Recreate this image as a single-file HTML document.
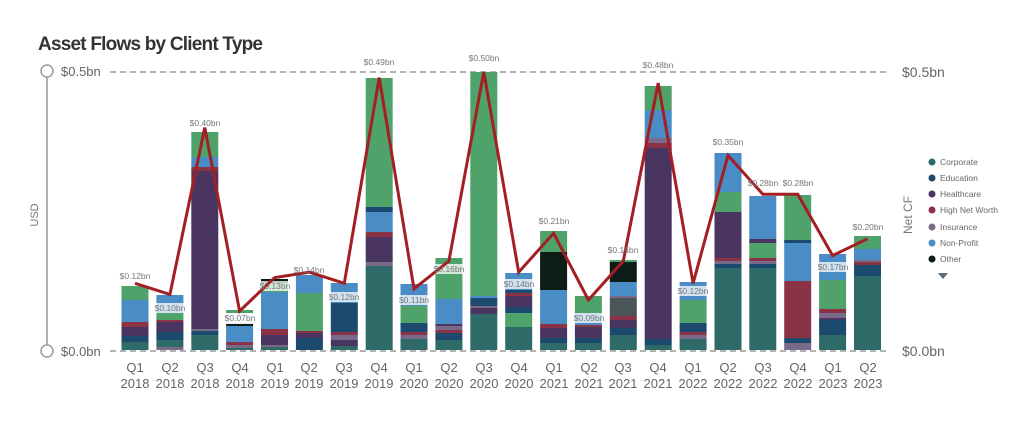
<!DOCTYPE html>
<html><head><meta charset="utf-8"><style>
html,body{margin:0;padding:0;background:#fff;width:1024px;height:423px;overflow:hidden}
svg{display:block;font-family:"Liberation Sans",sans-serif}
</style></head><body>
<svg id="s" width="1024" height="423" viewBox="0 0 1024 423">
<text x="38" y="50" font-size="19" font-weight="bold" fill="#333" textLength="225">Asset Flows by Client Type</text>
<line x1="47" y1="77" x2="47" y2="345" stroke="#999" stroke-width="1.5"/>
<circle cx="47" cy="71" r="6" fill="#fff" stroke="#999" stroke-width="1.5"/>
<circle cx="47" cy="351" r="6" fill="#fff" stroke="#999" stroke-width="1.5"/>
<text x="61" y="76" font-size="13" fill="#666">$0.5bn</text>
<text x="61" y="356" font-size="13" fill="#666">$0.0bn</text>
<line x1="110" y1="72" x2="890" y2="72" stroke="#999" stroke-width="1.5" stroke-dasharray="6,4"/>
<line x1="110" y1="351" x2="890" y2="351" stroke="#999" stroke-width="1.5" stroke-dasharray="6,4"/>
<text x="902" y="77" font-size="14" fill="#666">$0.5bn</text>
<text x="902" y="356" font-size="14" fill="#666">$0.0bn</text>
<text transform="translate(38,215) rotate(-90)" font-size="11" fill="#777" text-anchor="middle">USD</text>
<text transform="translate(912,215) rotate(-90)" font-size="12" fill="#777" text-anchor="middle">Net CF</text>
<g id="bars"></g>
<g id="lb"></g>
<g id="ln"></g>
<g id="labs" font-size="8.5" fill="#777" text-anchor="middle">
<text x="135" y="279">$0.12bn</text><text x="170" y="311">$0.10bn</text><text x="205" y="126">$0.40bn</text><text x="240" y="321">$0.07bn</text>
<text x="275" y="289">$0.13bn</text><text x="309" y="273">$0.14bn</text><text x="344" y="300">$0.12bn</text><text x="379" y="65">$0.49bn</text>
<text x="414" y="303">$0.11bn</text><text x="449" y="272">$0.16bn</text><text x="484" y="61">$0.50bn</text><text x="519" y="287">$0.14bn</text>
<text x="554" y="224">$0.21bn</text><text x="589" y="321">$0.09bn</text><text x="623" y="253">$0.16bn</text><text x="658" y="68">$0.48bn</text>
<text x="693" y="294">$0.12bn</text><text x="728" y="145">$0.35bn</text><text x="763" y="186">$0.28bn</text><text x="798" y="186">$0.28bn</text>
<text x="833" y="270">$0.17bn</text><text x="868" y="230">$0.20bn</text>
</g>
<g font-size="13" fill="#666" text-anchor="middle">
<text x="135" y="372">Q1</text><text x="135" y="388">2018</text>
<text x="170" y="372">Q2</text><text x="170" y="388">2018</text>
<text x="205" y="372">Q3</text><text x="205" y="388">2018</text>
<text x="240" y="372">Q4</text><text x="240" y="388">2018</text>
<text x="275" y="372">Q1</text><text x="275" y="388">2019</text>
<text x="309" y="372">Q2</text><text x="309" y="388">2019</text>
<text x="344" y="372">Q3</text><text x="344" y="388">2019</text>
<text x="379" y="372">Q4</text><text x="379" y="388">2019</text>
<text x="414" y="372">Q1</text><text x="414" y="388">2020</text>
<text x="449" y="372">Q2</text><text x="449" y="388">2020</text>
<text x="484" y="372">Q3</text><text x="484" y="388">2020</text>
<text x="519" y="372">Q4</text><text x="519" y="388">2020</text>
<text x="554" y="372">Q1</text><text x="554" y="388">2021</text>
<text x="589" y="372">Q2</text><text x="589" y="388">2021</text>
<text x="623" y="372">Q3</text><text x="623" y="388">2021</text>
<text x="658" y="372">Q4</text><text x="658" y="388">2021</text>
<text x="693" y="372">Q1</text><text x="693" y="388">2022</text>
<text x="728" y="372">Q2</text><text x="728" y="388">2022</text>
<text x="763" y="372">Q3</text><text x="763" y="388">2022</text>
<text x="798" y="372">Q4</text><text x="798" y="388">2022</text>
<text x="833" y="372">Q1</text><text x="833" y="388">2023</text>
<text x="868" y="372">Q2</text><text x="868" y="388">2023</text>
</g>
<g font-size="8.5" fill="#666">
<circle cx="932" cy="162" r="3.5" fill="#2e6b68"/><text x="940" y="165">Corporate</text>
<circle cx="932" cy="178" r="3.5" fill="#1c4a6e"/><text x="940" y="181">Education</text>
<circle cx="932" cy="194" r="3.5" fill="#4a3560"/><text x="940" y="197">Healthcare</text>
<circle cx="932" cy="210" r="3.5" fill="#8a3346"/><text x="940" y="213">High Net Worth</text>
<circle cx="932" cy="227" r="3.5" fill="#7a6a8a"/><text x="940" y="230">Insurance</text>
<circle cx="932" cy="243" r="3.5" fill="#4a8cc5"/><text x="940" y="246">Non-Profit</text>
<circle cx="932" cy="259" r="3.5" fill="#0d1c16"/><text x="940" y="262">Other</text>
<path d="M938 273 L948 273 L943 279 Z" fill="#5a6a78"/>
</g>
</svg>
<script>
var C={t:"#2e6b68",n:"#1c4a6e",p:"#4a3560",r:"#8a3346",i:"#7a6a8a",b:"#4a8cc5",k:"#0d1c16",g:"#4fa36a",y:"#4a5558",w:"#e8eef4"};
var B=[
"t342 n336 p327 r322 b300 g286",
"i347 t340 n332 p322 r320 g313 b295",
"t335 n331 i329 p171 r167 b157 g132",
"t348 i345 r342 b326 k324 w313 g310",
"t347 i345 p335 r329 b292 g283 k279",
"n338 p333 r331 g293 b275",
"t346 p340 i335 r332 n303 b283",
"t266 i262 p237 r232 b212 n207 g78",
"t339 i335 r332 n323 g306 b284",
"t340 n333 r330 i326 p324 b299 g258",
"t314 p308 i306 n298 b296 g72",
"t327 g313 n307 p296 r293 n290 b273",
"t343 n338 p328 r324 b290 k252 g231",
"t343 n338 p327 r325 b313 g296",
"t335 n328 p320 r316 y298 i296 b282 k262 g260",
"t345 n339 p148 r143 i138 b110 g86",
"t339 i335 r332 n323 g300 b282",
"t268 n264 i261 r258 p212 g192 b153",
"t268 n264 i261 r258 g243 p239 b196",
"i343 n338 r281 b243 n240 g195",
"t335 n320 p318 i313 r309 g280 b254",
"t276 n265 r262 i260 b249 g236"];
var V=[.12,.10,.40,.07,.13,.14,.12,.49,.11,.16,.50,.14,.21,.09,.16,.48,.12,.35,.28,.28,.17,.20];
var h="",pts=[];
B.forEach(function(s,k){var cx=135+k*34.88,y0=350;s.split(" ").forEach(function(q){var c=q[0],y=+q.slice(1);
h+='<rect x="'+(cx-13.5).toFixed(1)+'" y="'+y+'" width="27" height="'+(y0-y)+'" fill="'+C[c]+'"/>';y0=y;});
pts.push(cx.toFixed(1)+","+(350-V[k]*556).toFixed(1));});
document.getElementById("bars").innerHTML=h;
var lb="";
Array.prototype.forEach.call(document.querySelectorAll("#labs text"),function(t){var x=+t.getAttribute("x"),y=+t.getAttribute("y");
lb+='<rect x="'+(x-16)+'" y="'+(y-8)+'" width="32" height="10" fill="#fff" fill-opacity="0.75"/>';});
document.getElementById("lb").innerHTML=lb;
document.getElementById("ln").innerHTML='<polyline points="'+pts.join(" ")+'" fill="none" stroke="#a31f24" stroke-width="3" stroke-linejoin="miter"/>';
</script>
</body></html>
